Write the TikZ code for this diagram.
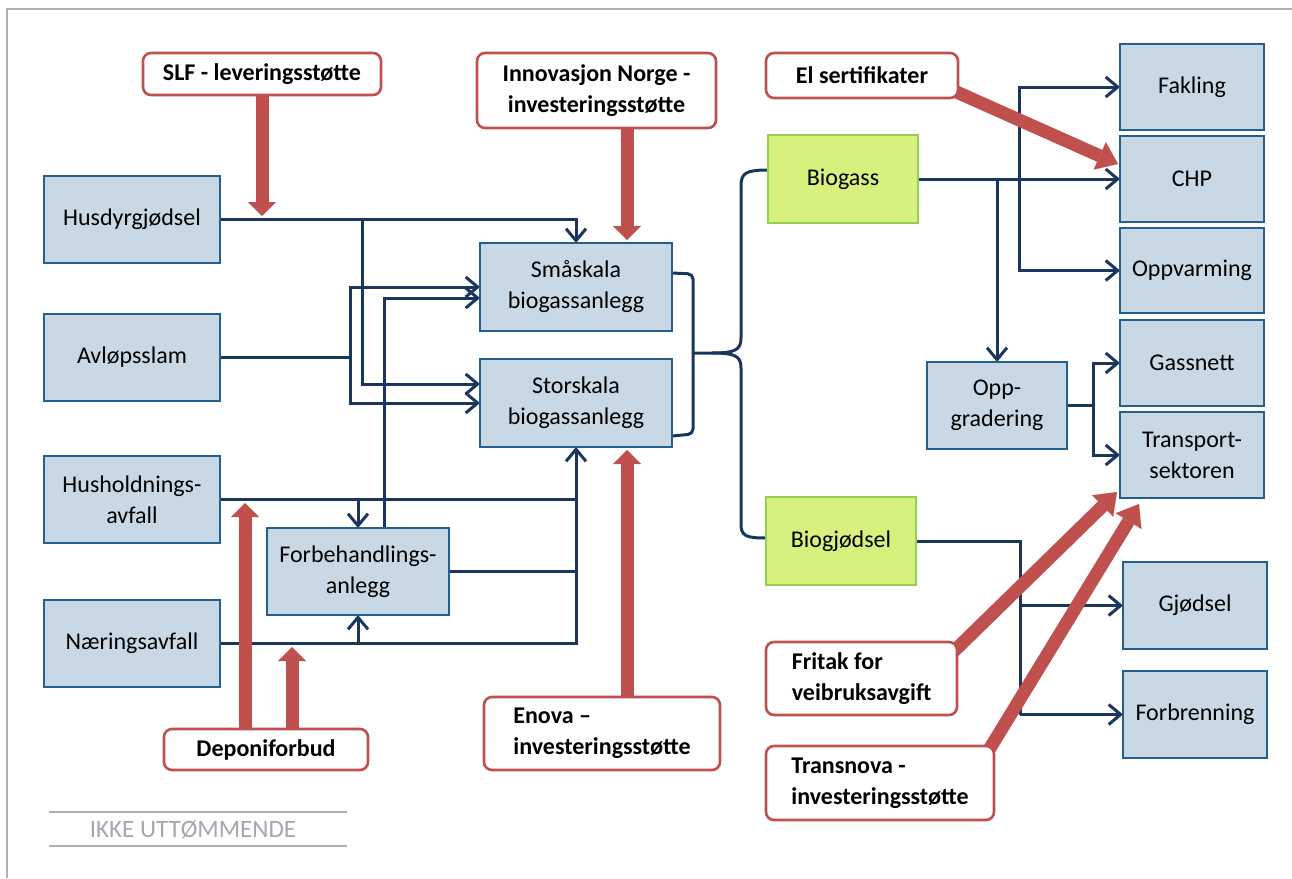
\documentclass[tikz,border=0pt]{standalone}
\usepackage{fontspec}
\setmainfont{Carlito}
\usetikzlibrary{arrows.meta}
\pgfdeclarelayer{bg}
\pgfsetlayers{bg,main}
\definecolor{bfill}{RGB}{200,216,228}
\definecolor{bline}{RGB}{36,96,142}
\definecolor{navy}{RGB}{26,54,92}
\definecolor{gfill}{RGB}{214,241,126}
\definecolor{gline}{RGB}{146,208,80}
\definecolor{rcol}{RGB}{192,80,77}
\definecolor{framecol}{RGB}{175,175,175}
\definecolor{ikkecol}{RGB}{166,166,176}
\tikzset{
  base/.style={inner sep=0pt, outer sep=0pt, font=\fontsize{24}{31}\selectfont, text=black, align=center},
  bbox/.style={base, draw=bline, fill=bfill, line width=2.4pt},
  gbox/.style={base, draw=gline, fill=gfill, line width=2.4pt},
  rbox/.style={base, draw=rcol, fill=white, line width=2.6pt, rounded corners=8pt, font=\fontsize{24}{31}\selectfont\bfseries},
  con/.style={draw=navy, line width=3pt},
  conarr/.style={con, -{Straight Barb[length=12pt,width=20pt]}},
  conboth/.style={con, {Straight Barb[length=12pt,width=20pt]}-{Straight Barb[length=12pt,width=20pt]}},
  redarr/.style={draw=rcol, line width=13pt, -{Triangle[length=14pt,width=28pt,line width=0.1pt]}},
  bigredarr/.style={draw=rcol, line width=13pt, -{Triangle[length=20pt,width=30pt,line width=0.1pt]}}
}
\newcommand\bx[7]{\node[#1, minimum width={(#5)-(#3)}, minimum height={(#6)-(#4)}] (#2) at ({((#3)+(#5))/2},{((#4)+(#6))/2}) {#7};}
\begin{document}
\begin{tikzpicture}[x=1pt,y=-1pt]
\useasboundingbox (0,0) rectangle (1292,878);
% frame
\draw[framecol, line width=2pt] (7,878) -- (7,9) -- (1292,9);
\draw[framecol, line width=2pt] (49,812) -- (347,812);
\draw[framecol, line width=2pt] (49,846) -- (347,846);
\node[base, text=ikkecol, font=\fontsize{25}{30}\selectfont] (ikke) at (193,830) {IKKE UTTØMMENDE};

% boxes
\bx{bbox}{husdyr}{44}{176}{220}{263}{Husdyrgjødsel}
\bx{bbox}{avlop}{44}{314}{220}{401}{Avløpsslam}
\bx{bbox}{hush}{44}{456}{220}{543}{Husholdnings-\\avfall}
\bx{bbox}{naer}{44}{600}{220}{687}{Næringsavfall}
\bx{bbox}{forb}{267}{528}{449}{615}{Forbehandlings-\\anlegg}
\bx{bbox}{smaa}{480}{243}{672}{331}{Småskala\\biogassanlegg}
\bx{bbox}{stor}{480}{359}{672}{447}{Storskala\\biogassanlegg}
\bx{gbox}{biogass}{768}{135}{918}{223}{Biogass}
\bx{gbox}{biogj}{766}{497}{916}{585}{Biogjødsel}
\bx{bbox}{opp}{927}{362}{1067}{449}{Opp-\\gradering}
\bx{bbox}{fakl}{1120}{44}{1264}{130}{Fakling}
\bx{bbox}{chp}{1120}{136}{1264}{222}{CHP}
\bx{bbox}{oppv}{1120}{228}{1264}{313}{Oppvarming}
\bx{bbox}{gass}{1120}{320}{1264}{406}{Gassnett}
\bx{bbox}{trans}{1120}{412}{1264}{498}{Transport-\\sektoren}
\bx{bbox}{gjod}{1123}{562}{1267}{649}{Gjødsel}
\bx{bbox}{forbr}{1123}{671}{1267}{758}{Forbrenning}
% callouts
\bx{rbox}{slf}{143}{53}{381}{95}{SLF - leveringsstøtte}
\bx{rbox}{inno}{477}{53}{716}{128}{Innovasjon Norge -\\investeringsstøtte}
\bx{rbox}{el}{766}{53}{958}{98}{El sertifikater}
\bx{rbox}{depo}{164}{729}{368}{770}{Deponiforbud}
\bx{rbox,align=left}{enova}{484}{697}{720}{770}{Enova –\\investeringsstøtte}
\bx{rbox,align=left}{fritak}{766}{642}{957}{715}{Fritak for\\veibruksavgift}
\bx{rbox,align=left}{transn}{766}{746}{994}{820}{Transnova -\\investeringsstøtte}

\begin{pgfonlayer}{bg}
% inputs
\draw[conarr] (husdyr.east) -| (smaa.north);
\draw[conarr] (362,219.5) |- (stor.west |- 0,384);
\draw[con] (avlop.east) -- (350,357.5);
\draw[conarr] (350,357.5) |- (smaa.west |- 0,287);
\draw[conarr] (350,357.5) |- (stor.west |- 0,403);
\draw[conarr] (forb.north -| 384,0) |- (smaa.west |- 0,298);
\draw[con] (hush.east) -- (576,499.5);
\draw[conarr] (forb.north |- hush.east) -- (forb.north);
\draw[con] (forb.east) -- (576,571.5);
\draw[conarr] (naer.east) -| (stor.south);
\draw[conarr] (forb.south |- naer.east) -- (forb.south);
% brackets
\draw[con, rounded corners=5pt] (smaa.east |- 0,273) -- (693,274) -- (693,434) -- (stor.east |- 0,436);
\draw[con] (biogass.west |- 0,170) .. controls (746,170) and (741,173) .. (741,186) -- (741,338) .. controls (741,350) and (735,353) .. (712,353) -- (693,353);
\draw[con] (712,353) .. controls (735,353) and (741,356) .. (741,368) -- (741,524) .. controls (741,536) and (746,538) .. (biogj.west |- 0,538);
% outputs
\draw[conarr] (biogass.east) -- (chp.west);
\draw[conarr] (opp.north |- biogass.east) -- (opp.north);
\draw[conboth] (fakl.west) -| (1019,179) |- (oppv.west);
\draw[con] (opp.east) -- (1093,405.5);
\draw[conboth] (gass.west) -| (1093,405.5) |- (trans.west);
\draw[con] (biogj.east) -| (1020,714.5);
\draw[conarr] (1020,605.5) -- (gjod.west);
\draw[conarr] (1020,714.5) -- (forbr.west);
% red arrows
\draw[redarr] (slf.south) -- (slf.south |- 0,216);
\draw[redarr] (inno.south -| 627,0) -- (627,240);
\draw[redarr] (enova.north -| 627,0) -- (627,450);
\draw[redarr] (depo.north -| 245,0) -- (245,503);
\draw[redarr] (depo.north -| 292,0) -- (292,647);
\draw[bigredarr] (943,86) -- (1118,164);
\draw[bigredarr] (947,658) -- (1117,492);
\draw[bigredarr] (984,758) -- (1139,504);
\end{pgfonlayer}
\end{tikzpicture}
\end{document}
